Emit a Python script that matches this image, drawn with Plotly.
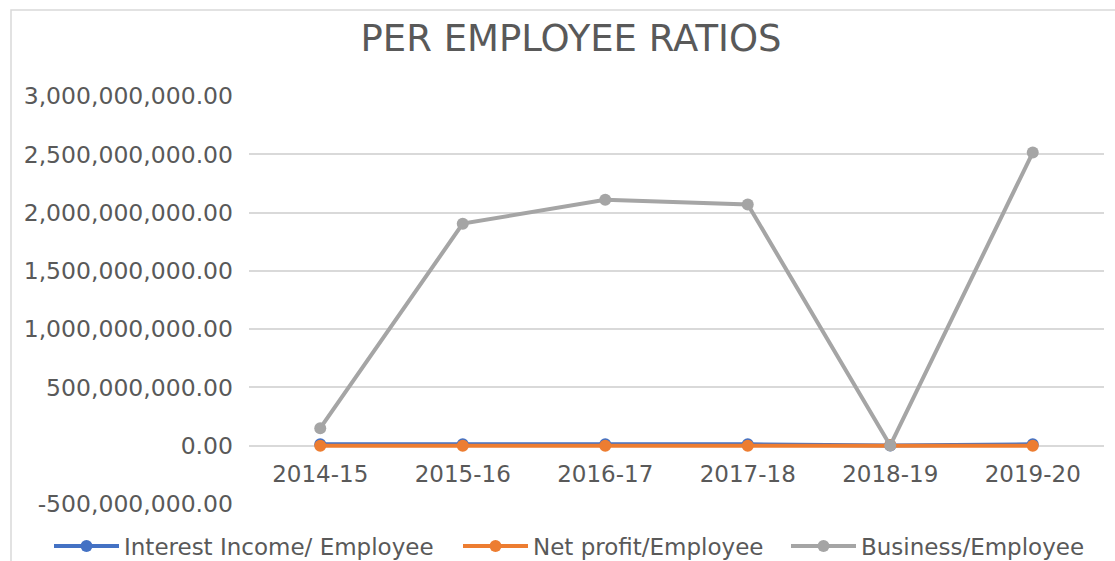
import plotly.graph_objects as go

categories = ["2014-15", "2015-16", "2016-17", "2017-18", "2018-19", "2019-20"]
interest_income = [12e6, 12e6, 12e6, 12e6, 1e6, 12e6]
net_profit = [0.5e6, 0.5e6, 0.5e6, 0.5e6, 6e6, 0.5e6]
business = [150e6, 1905e6, 2110e6, 2070e6, 2e6, 2515e6]
tick_vals = [-500e6, 0, 500e6, 1000e6, 1500e6, 2000e6, 2500e6, 3000e6]
tick_text = ["-500,000,000.00", "0.00", "500,000,000.00", "1,000,000,000.00",
             "1,500,000,000.00", "2,000,000,000.00", "2,500,000,000.00",
             "3,000,000,000.00"]

series = [
    ("Interest Income/ Employee", interest_income, "#4472C4", "legend", 53),
    ("Net profit/Employee", net_profit, "#ED7D31", "legend2", 462),
    ("Business/Employee", business, "#A5A5A5", "legend3", 790),
]

FONT = "DejaVu Sans"
TXT = "#595959"
W, H = 1115, 561
L, R, T, B = 249, 11, 96, 57
pw, ph = W - L - R, H - T - B

fig = go.Figure()
for name, vals, col, lg, _ in series:
    fig.add_trace(go.Scatter(
        x=categories, y=vals, name=name, mode="lines+markers",
        line=dict(color=col, width=4),
        marker=dict(color=col, size=12, symbol="circle"),
        legend=lg,
    ))

legend_common = dict(orientation="h", xanchor="left", yanchor="middle",
                     y=(H - B - 546) / ph, itemwidth=65,
                     font=dict(size=23, color=TXT, family=FONT),
                     bgcolor="rgba(0,0,0,0)", borderwidth=0)
legends = {}
for name, vals, col, lg, px in series:
    legends[lg] = dict(legend_common, x=(px - 4 - L) / pw)

fig.update_layout(
    width=W, height=H,
    margin=dict(l=L, r=R, t=T, b=B, autoexpand=False),
    paper_bgcolor="white", plot_bgcolor="white",
    font=dict(family=FONT, color=TXT, size=23),
    title=dict(text="PER EMPLOYEE RATIOS", x=571 / W, xanchor="center",
               y=1 - 38.5 / H, yanchor="middle",
               font=dict(size=37, color=TXT, family=FONT)),
    showlegend=True,
    xaxis=dict(type="category", range=[-0.5, 5.5], showgrid=False,
               showline=False, zeroline=False,
               ticks="", anchor="free", position=500e6 / 3500e6,
               tickfont=dict(size=23, color=TXT), ticklabelstandoff=12),
    yaxis=dict(range=[-500e6, 3000e6], tickvals=tick_vals, ticktext=tick_text,
               showgrid=True, gridcolor="#D9D9D9", gridwidth=1.5,
               zeroline=False, showline=False, ticks="",
               tickfont=dict(size=23.5, color=TXT), ticklabelstandoff=15),
    **legends,
)

# outer chart border
fig.add_shape(type="rect", xref="paper", yref="paper",
              x0=(11 - L) / pw, x1=(1120 - L) / pw,
              y0=(H - B - 570) / ph, y1=(H - B - 10) / ph,
              line=dict(color="#D9D9D9", width=1.5), fillcolor="rgba(0,0,0,0)",
              layer="below")

fig.write_html("out.html", config={"displayModeBar": False},
               post_script="document.body.style.margin='0';document.body.style.padding='0';")
